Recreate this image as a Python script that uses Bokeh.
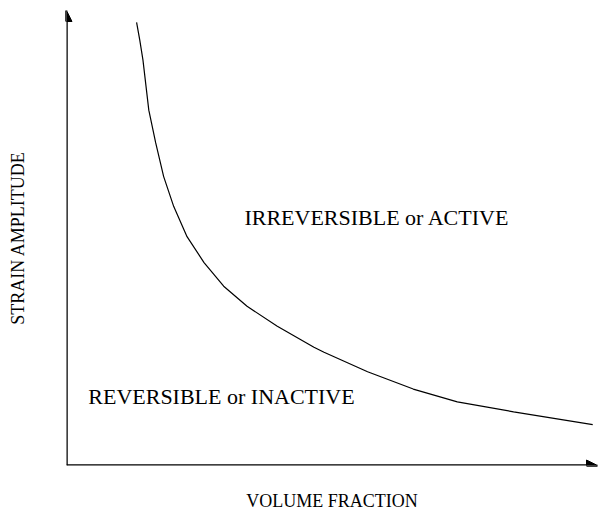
from bokeh.plotting import figure
from bokeh.models import Arrow, NormalHead, Label, Range1d, FixedTicker
from bokeh.embed import file_html
from bokeh.resources import INLINE

# Boundary curve (volume fraction vs strain amplitude), arbitrary units 0..1
volume_fraction = [0.132, 0.138, 0.144, 0.155, 0.168, 0.183, 0.202, 0.227, 0.259, 0.296,
                   0.340, 0.397, 0.466, 0.485, 0.567, 0.653, 0.736, 0.842, 0.991]
strain_amplitude = [0.974, 0.935, 0.891, 0.781, 0.709, 0.635, 0.569, 0.503, 0.446, 0.394,
                    0.350, 0.306, 0.260, 0.249, 0.206, 0.168, 0.140, 0.118, 0.090]

x_title = "VOLUME FRACTION"
y_title = "STRAIN AMPLITUDE"
upper_region = "IRREVERSIBLE or ACTIVE"
lower_region = "REVERSIBLE or INACTIVE"

FONT = "Liberation Serif"

p = figure(width=599, height=513, output_backend="svg", toolbar_location=None,
           x_range=Range1d(0, 1), y_range=Range1d(0, 1),
           min_border_left=66, min_border_right=2, min_border_top=10, min_border_bottom=46)

p.grid.visible = False
p.outline_line_color = None
p.background_fill_color = "white"
p.border_fill_color = "white"

for ax in (p.xaxis, p.yaxis):
    ax.ticker = FixedTicker(ticks=[])
    ax.axis_line_color = None
    ax.major_tick_line_color = None
    ax.minor_tick_line_color = None
    ax.major_tick_out = 0
    ax.major_tick_in = 0
    ax.major_label_standoff = 0
    ax.axis_label_text_font = FONT
    ax.axis_label_text_font_size = "18px"
    ax.axis_label_text_font_style = "normal"
    ax.axis_label_text_color = "black"

p.xaxis.axis_label = x_title
p.xaxis.axis_label_standoff = 25
p.yaxis.axis_label = y_title
p.yaxis.axis_label_standoff = 39

# axes with arrow heads
p.add_layout(Arrow(end=NormalHead(size=11, fill_color="black", line_color="black"),
                   x_start=0, y_start=0, x_end=1, y_end=0,
                   line_width=2.5, line_color="black"))
p.add_layout(Arrow(end=NormalHead(size=11, fill_color="black", line_color="black"),
                   x_start=0, y_start=0, x_end=0, y_end=1,
                   line_width=2.5, line_color="black"))

p.line(volume_fraction, strain_amplitude, line_color="black", line_width=1.2)

p.add_layout(Label(x=0.335, y=0.545, text=upper_region, text_font=FONT,
                   text_font_size="22px", text_baseline="middle", text_color="black"))
p.add_layout(Label(x=0.041, y=0.151, text=lower_region, text_font=FONT,
                   text_font_size="22px", text_baseline="middle", text_color="black"))

open("out.html", "w").write(file_html(p, INLINE))
